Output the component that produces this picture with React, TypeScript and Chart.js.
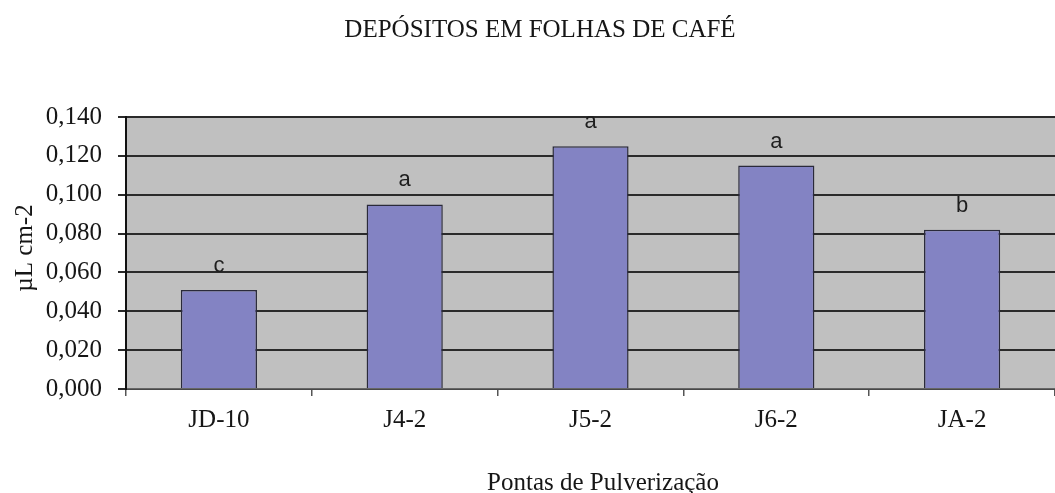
import React, { useEffect, useRef } from "react";
import { Chart, registerables } from "chart.js";

Chart.register(...registerables);

const categories = ["JD-10", "J4-2", "J5-2", "J6-2", "JA-2"];
const deposits = [0.051, 0.095, 0.125, 0.115, 0.082];
const groupLetters = ["c", "a", "a", "a", "b"];
const yTicks = [0, 0.02, 0.04, 0.06, 0.08, 0.1, 0.12, 0.14];

const chartTitle = "DEPÓSITOS EM FOLHAS DE CAFÉ";
const xTitle = "Pontas de Pulverização";
const yTitle = "µL cm-2";

const SERIF = "'Liberation Serif', 'Times New Roman', serif";
const SANS = "'Liberation Sans', Arial, sans-serif";

const decorPlugin = {
  id: "decor",
  beforeDraw(chart: any) {
    const { ctx, chartArea } = chart;
    ctx.save();
    ctx.fillStyle = "#c0c0c0";
    ctx.fillRect(chartArea.left, chartArea.top, chartArea.right - chartArea.left, chartArea.bottom - chartArea.top);
    ctx.restore();
  },
  afterDraw(chart: any) {
    const { ctx } = chart;
    ctx.save();
    ctx.fillStyle = "#161616";
    ctx.font = `25px ${SERIF}`;
    ctx.textAlign = "center";
    ctx.textBaseline = "alphabetic";
    ctx.fillText(chartTitle, 540, 37);
    ctx.fillText(xTitle, 603, 490);
    ctx.translate(32, 248);
    ctx.rotate(-Math.PI / 2);
    ctx.fillText(yTitle, 0, 0);
    ctx.restore();
  },
  afterDatasetsDraw(chart: any) {
    const { ctx } = chart;
    const meta = chart.getDatasetMeta(0);
    ctx.save();
    ctx.fillStyle = "#1e1e1e";
    ctx.font = `22px ${SANS}`;
    ctx.textAlign = "center";
    ctx.textBaseline = "middle";
    meta.data.forEach((bar: any, i: number) => {
      ctx.fillText(groupLetters[i], bar.x, bar.y - 24);
    });
    ctx.restore();
  },
};

export default function App() {
  const ref = useRef<HTMLCanvasElement | null>(null);
  useEffect(() => {
    if (!ref.current) return;
    const chart = new Chart(ref.current, {
      type: "bar",
      data: {
        labels: categories,
        datasets: [
          {
            data: deposits,
            backgroundColor: "#8383c3",
            borderColor: "#2a2a3a",
            borderWidth: 1.5,
            barPercentage: 0.41,
            categoryPercentage: 1,
          },
        ],
      },
      options: {
        animation: false,
        responsive: true,
        maintainAspectRatio: false,
        layout: { padding: { top: 117, left: 0, right: 0, bottom: 0 } },
        plugins: {
          legend: { display: false },
          title: { display: false },
          tooltip: { enabled: false },
        },
        scales: {
          x: {
            offset: true,
            grid: {
              offset: true,
              drawOnChartArea: false,
              drawTicks: true,
              tickLength: 7,
              color: "#555",
              lineWidth: 1.5,
            },
            border: { display: true, color: "#666", width: 1.5 },
            ticks: {
              color: "#161616",
              font: { family: SERIF, size: 25 },
              padding: 9,
              maxRotation: 0,
            },
            afterFit(scale: any) {
              scale.height = 104;
            },
          },
          y: {
            min: 0,
            max: 0.14,
            afterBuildTicks(scale: any) {
              scale.ticks = yTicks.map((v) => ({ value: v }));
            },
            grid: {
              color: "#2a2a2a",
              lineWidth: 2,
              tickLength: 8,
            },
            border: { display: true, color: "#111", width: 2 },
            ticks: {
              color: "#161616",
              font: { family: SERIF, size: 25 },
              padding: 16,
              callback: (v: any) => Number(v).toFixed(3).replace(".", ","),
            },
            afterFit(scale: any) {
              scale.width = 126;
            },
          },
        },
      },
      plugins: [decorPlugin],
    });
    return () => chart.destroy();
  }, []);
  return (
    <div style={{ position: "absolute", left: 0, top: 0, width: 1055, height: 493, background: "#fff" }}>
      <canvas ref={ref} />
    </div>
  );
}
